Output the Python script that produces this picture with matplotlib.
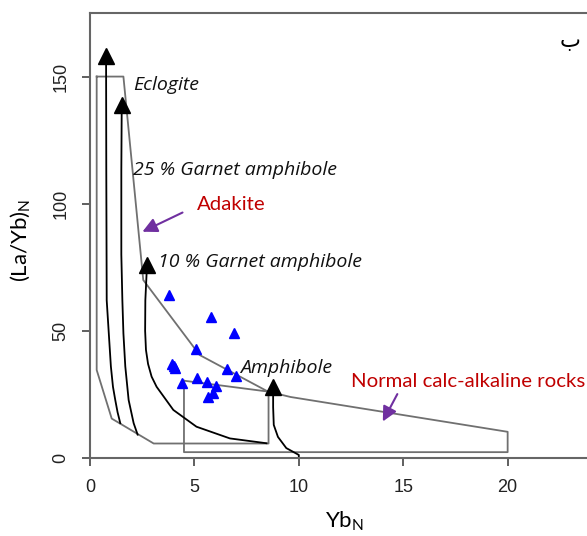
import matplotlib.pyplot as plt

plt.rcParams['font.family'] = ['Liberation Sans', 'DejaVu Sans']

# outline of the adakite field
adakite_x = [0.32, 1.6, 2.55, 5.25, 8.55, 8.55, 3.05, 1.04, 0.32, 0.32]
adakite_y = [150, 150, 70, 40.5, 26, 5.7, 5.7, 15.5, 34.6, 150]

# outline of the normal calc-alkaline field
calc_x = [4.5, 8.55, 9.6, 20, 20, 4.5, 4.5]
calc_y = [30.4, 26.1, 24, 10.3, 2.3, 2.3, 30.4]

# melting curves
ecl_x = [0.77, 0.78, 0.80, 0.90, 1.00, 1.10, 1.21, 1.32, 1.45]
ecl_y = [158, 113, 62, 49, 36, 28, 22.8, 18, 13.7]
g25_x = [1.52, 1.50, 1.50, 1.55, 1.60, 1.69, 1.85, 2.09, 2.28]
g25_y = [139, 113, 80, 62, 49, 36, 22.8, 13.7, 9.2]
g10_x = [2.73, 2.65, 2.64, 2.68, 2.78, 2.95, 3.19, 3.99, 5.1, 6.7, 8.45]
g10_y = [76, 62, 50, 42.5, 37, 32, 28, 18.9, 12.3, 7.7, 5.8]
amph_x = [8.77, 8.77, 8.8, 9.0, 9.4, 10.0, 10.0]
amph_y = [28, 20, 13, 8.3, 3.9, 1.2, 0]

# arrow heads at the end of each curve
head_x = [0.77, 1.52, 2.73, 8.77]
head_y = [158, 139, 76, 28]

# samples
sample_x = [3.8, 5.79, 6.89, 5.1, 3.93, 4.0, 4.07, 6.54, 6.98, 4.42, 5.12, 5.6, 6.03, 5.89, 5.66]
sample_y = [64, 55.6, 49.3, 42.9, 37, 36, 35.2, 35, 32.2, 29.5, 31.5, 29.8, 28.5, 25.7, 24]

fig = plt.figure(figsize=(5.87, 5.36), dpi=100)
ax = fig.add_axes([90 / 587, 78 / 536, 497 / 587, 445 / 536])

gray = '#707070'
ax.plot(adakite_x, adakite_y, color=gray, lw=1.3)
ax.plot(calc_x, calc_y, color=gray, lw=1.3)

for cx, cy in [(ecl_x, ecl_y), (g25_x, g25_y), (g10_x, g10_y), (amph_x, amph_y)]:
    ax.plot(cx, cy, color='black', lw=1.3)
ax.plot(head_x, head_y, linestyle='none', marker='^', markersize=11, color='black')

ax.plot(sample_x, sample_y, linestyle='none', marker='^', markersize=7, color='#0000ff')

# labels
lab = dict(family=['Open Sans', 'DejaVu Sans'], fontsize=14, style='italic', color='#111111', va='center')
ax.text(2.06, 146.5, 'Eclogite', **lab)
ax.text(2.06, 113.4, '25 % Garnet amphibole', **lab)
ax.text(3.25, 77, '10 % Garnet amphibole', **lab)
ax.text(7.18, 35.4, 'Amphibole', **lab)

red = dict(family=['Lato', 'DejaVu Sans'], fontsize=14.7, color='#c00000', va='center')
ax.text(5.1, 99.6, 'Adakite', **red)
ax.text(12.5, 30, 'Normal calc-alkaline rocks', **red)

purple = '#7030a0'
ax.annotate('', xy=(2.39, 88.5), xytext=(4.55, 97),
            arrowprops=dict(arrowstyle='-|>', color=purple, lw=1.5, mutation_scale=22))
ax.annotate('', xy=(13.96, 13.4), xytext=(14.78, 26.1),
            arrowprops=dict(arrowstyle='-|>', color=purple, lw=1.5, mutation_scale=22))

ax.text(23.0, 164, 'ب', family=['DejaVu Sans'], fontsize=16, ha='center', va='center')

# axes, R style
ax.set_xlim(0, 23.8)
ax.set_ylim(0, 175)
ax.spines['right'].set_visible(False)
for s in ['left', 'top', 'bottom']:
    ax.spines[s].set_color('#666666')
    ax.spines[s].set_linewidth(1.5)

ax.set_xticks([0, 5, 10, 15, 20])
ax.set_yticks([0, 50, 100, 150])
ax.tick_params(axis='both', length=6, width=1.2, color='#444444', labelsize=13,
               labelcolor='#222222')
ax.tick_params(axis='x', pad=9)
ax.tick_params(axis='y', pad=9, labelrotation=90)
for t in ax.get_yticklabels():
    t.set_verticalalignment('center')

ax.set_xlabel(r'Yb$_\mathregular{N}$', fontsize=16, family='Lato')
ax.set_ylabel(r'(La/Yb)$_\mathregular{N}$', fontsize=16, family='Lato')
ax.xaxis.set_label_coords(0.513, -0.115)
ax.yaxis.set_label_coords(-0.115, 0.49)

fig.savefig('out.png', dpi=100)
